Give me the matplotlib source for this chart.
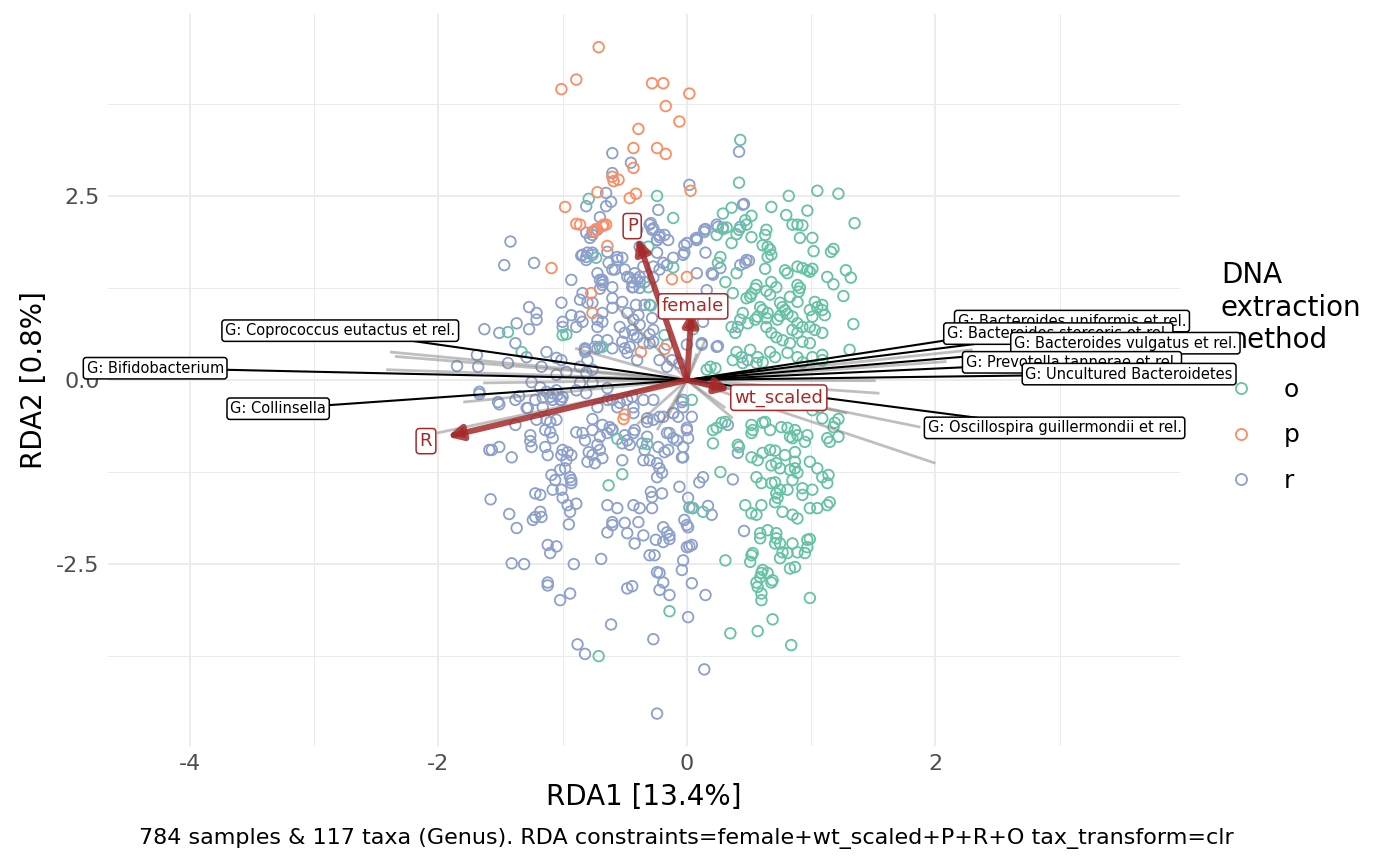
import matplotlib
matplotlib.use("Agg")
import matplotlib.pyplot as plt
import numpy as np
from matplotlib.lines import Line2D

plt.rcParams['font.family'] = ['DejaVu Sans']
plt.rcParams['axes.unicode_minus'] = False

# sample scores, method "o"
o_pts = np.array([
    (0.42, 2.68), (0.82, 2.50), (1.05, 2.57), (1.22, 2.53), (1.35, 2.13), (0.97, 2.30), (0.80, 2.24), (0.68, 2.35),
    (0.85, 2.11), (0.89, 2.11), (0.93, 2.10), (0.91, 1.93), (1.01, 1.93), (1.02, 1.75), (1.16, 1.74), (1.18, 1.78),
    (1.28, 1.49), (1.32, 1.39), (1.13, 1.40), (1.18, 1.30), (1.26, 1.14), (1.34, 0.76), (0.36, 2.34), (0.29, 2.26),
    (0.52, 2.23), (0.47, 2.17), (0.48, 2.11), (0.42, 2.04), (0.40, 1.98), (0.36, 1.86), (0.32, 2.07), (0.29, 2.05),
    (0.24, 1.97), (0.64, 2.04), (0.63, 1.97), (0.52, 1.94), (0.61, 1.83), (0.65, 1.81), (0.67, 1.77), (0.68, 1.70),
    (0.65, 1.67), (0.27, 1.67), (0.25, 1.59), (0.40, 1.45), (0.31, 1.33), (0.63, 1.51), (0.79, 1.49), (0.81, 1.45),
    (0.89, 1.54), (0.93, 1.52), (0.97, 1.49), (0.99, 1.47), (1.01, 1.51), (0.68, 1.33), (0.72, 1.26), (0.56, 1.29),
    (0.55, 1.24), (0.52, 1.17), (0.89, 1.29), (0.91, 1.25), (0.90, 1.20), (0.64, 1.21), (0.67, 1.16), (0.48, 1.11),
    (0.51, 1.13), (0.37, 1.18), (0.83, 1.13), (0.89, 1.06), (1.03, 1.06), (1.05, 0.99), (1.09, 1.02), (1.09, 0.95),
    (1.11, 0.88), (0.99, 0.95), (1.01, 0.86), (0.75, 1.05), (0.77, 0.99), (0.79, 0.95), (0.81, 0.90), (0.75, 0.87),
    (0.73, 0.82), (0.59, 0.99), (0.61, 0.95), (0.65, 0.91), (0.57, 0.86), (0.64, 0.84), (0.45, 0.91), (0.43, 0.82),
    (0.49, 0.77), (0.55, 0.82), (0.85, 0.86), (0.89, 0.77), (0.93, 0.72), (0.85, 0.68), (0.89, 0.64), (0.99, 0.72),
    (1.03, 0.68), (1.09, 0.64), (0.36, 0.72), (0.39, 0.64), (0.64, 0.72), (0.68, 0.64), (0.72, 0.58), (0.77, 0.54),
    (0.83, 0.50), (0.93, 0.52), (0.99, 0.50), (0.40, 0.38), (0.37, 0.27), (0.44, 0.31), (0.51, 0.41), (0.57, 0.31),
    (0.61, 0.24), (0.67, 0.38), (0.71, 0.31), (0.81, 0.37), (0.89, 0.31), (0.93, 0.24), (1.01, 0.31), (1.09, 0.34),
    (1.09, 0.27), (0.19, 0.18), (0.16, 0.14), (0.23, 0.16), (0.45, 0.23), (0.56, 0.23), (1.31, 0.41), (0.43, 3.26),
    (-0.24, 2.50), (-0.11, 2.20), (-0.79, 2.46), (-0.73, 1.66), (-0.31, 1.81), (-0.11, 1.53), (-0.31, 1.26),
    (-0.29, 1.01), (-1.44, 0.65), (-0.97, 0.62), (-0.68, 0.45), (-1.33, 0.38), (-0.18, 0.61), (0.05, 0.69),
    (-1.00, 0.61), (0.04, -0.27), (0.21, -0.68), (0.24, -0.65), (0.28, -0.58), (0.31, -0.57), (0.21, -0.86),
    (0.41, -0.88), (0.42, -0.91), (0.52, -0.61), (0.53, -0.68), (0.52, -0.72), (0.63, -0.57), (0.61, -0.58),
    (0.67, -0.68), (0.76, -0.64), (0.81, -0.65), (0.87, -0.68), (0.89, -0.75), (0.83, -0.77), (0.85, -0.79),
    (0.97, -0.75), (0.95, -0.84), (1.09, -0.52), (1.19, -0.58), (1.22, -0.53), (1.18, -0.64), (1.13, -0.79),
    (1.15, -0.84), (1.22, -0.77), (1.01, -0.41), (1.07, -0.37), (0.52, -1.05), (0.57, -1.09), (0.61, -0.99),
    (0.67, -0.95), (0.71, -0.96), (0.68, -1.16), (0.72, -1.13), (0.79, -1.02), (0.87, -0.98), (0.87, -1.11),
    (0.83, -1.22), (0.75, -1.20), (0.87, -1.20), (0.89, -1.26), (0.85, -1.36), (0.99, -1.11), (1.05, -1.20),
    (1.09, -1.32), (1.14, -1.29), (1.13, -1.40), (0.56, -1.32), (0.60, -1.40), (0.68, -1.40), (0.71, -1.39),
    (0.72, -1.54), (0.73, -1.60), (0.71, -1.66), (0.75, -1.49), (0.81, -1.49), (0.93, -1.47), (1.01, -1.49),
    (0.93, -1.56), (0.99, -1.74), (1.05, -1.74), (1.13, -1.70), (1.15, -1.66), (0.77, -1.79), (0.85, -1.83),
    (0.89, -1.88), (0.47, -1.70), (0.60, -1.70), (0.52, -1.81), (0.56, -1.83), (0.59, -2.08), (0.65, -2.04),
    (0.72, -2.08), (0.72, -2.15), (0.71, -2.22), (0.59, -2.15), (0.75, -2.22), (0.77, -2.34), (0.81, -2.35),
    (0.75, -2.42), (0.85, -2.22), (0.89, -2.34), (0.87, -2.54), (0.83, -2.56), (0.97, -2.17), (0.99, -2.16),
    (0.97, -2.27), (0.95, -2.35), (0.52, -2.38), (0.53, -2.35), (0.51, -2.47), (0.61, -2.58), (0.60, -2.62),
    (0.59, -2.68), (0.65, -2.62), (0.68, -2.75), (0.69, -2.72), (0.56, -2.75), (0.57, -2.81), (0.60, -2.90),
    (0.60, -2.99), (0.31, -2.45), (0.27, -1.25), (0.99, -2.96), (0.69, -3.25), (0.57, -3.41), (0.35, -3.44),
    (0.84, -3.60), (0.04, -1.74), (0.13, -1.79), (-0.56, -0.80), (-0.32, -0.87), (-0.52, -1.28), (-0.63, -1.43),
    (-0.14, -3.14), (-0.71, -3.75),
])

# sample scores, method "p"
p_pts = np.array([
    (-0.71, 4.52), (-0.89, 4.08), (-1.01, 3.95), (-0.28, 4.03), (-0.19, 4.03), (0.02, 3.89), (-0.17, 3.72),
    (-0.06, 3.51), (-0.39, 3.41), (-0.43, 3.15), (-0.24, 3.15), (-0.17, 3.07), (-0.43, 2.88), (-0.60, 2.76),
    (-0.59, 2.70), (-0.55, 2.72), (-0.72, 2.55), (-0.46, 2.47), (-0.41, 2.53), (0.03, 2.57), (-0.98, 2.35),
    (-0.89, 2.12), (-0.86, 2.11), (-0.73, 2.05), (-0.67, 2.11), (-0.75, 2.02), (-0.68, 2.09), (-0.65, 2.11),
    (-0.64, 1.82), (-1.09, 1.52), (-0.77, 1.18), (-0.76, 0.91), (-0.37, 0.38), (-0.12, 1.37), (0.00, 1.40),
    (-0.18, 0.42), (-0.51, -0.53), (-0.50, -0.47),
])

# sample scores, method "r"
r_pts = np.array([
    (-1.67, -0.19), (-1.51, -0.33), (-1.35, -0.22), (-1.28, -0.38), (-1.38, -0.61), (-1.21, -0.54), (-1.13, -0.54),
    (-1.10, -0.57), (-1.26, -0.83), (-1.57, -0.95), (-1.41, -1.05), (-1.10, -0.71), (-1.08, -0.79), (-1.14, -0.91),
    (-1.12, -1.02), (-1.00, -0.95), (-0.96, -0.98), (-0.93, -1.02), (-1.01, -1.02), (-0.97, -1.09), (-0.89, -0.71),
    (-0.82, -0.82), (-0.76, -0.53), (-0.68, -0.61), (-0.62, -0.64), (-0.60, -0.67), (-0.79, -0.98), (-0.76, -1.02),
    (-0.72, -0.88), (-0.70, -0.95), (-0.68, -1.06), (-0.74, -1.13), (-0.80, -1.11), (-0.52, -1.09), (-0.50, -0.75),
    (-0.48, -0.82), (-0.46, -0.88), (-0.52, -0.86), (-0.42, -0.68), (-0.36, -0.86), (-0.34, -0.95), (-0.35, -1.09),
    (-0.30, -1.09), (-0.32, -0.52), (-0.27, -0.54), (-0.22, -0.50), (-0.23, -0.91), (-0.18, -0.98), (-0.15, -0.95),
    (-0.24, -1.13), (-0.22, -1.20), (-0.20, -1.26), (-0.24, -1.32), (-0.14, -0.72), (-0.11, -0.79), (-0.11, -0.45),
    (-0.07, -0.50), (-0.04, -0.30), (-0.03, -0.27), (0.00, -0.65), (0.01, -0.79), (-0.04, -1.05), (-1.09, -1.29),
    (-1.06, -1.36), (-1.02, -1.22), (-0.98, -1.20), (-0.93, -1.36), (-0.94, -1.32), (-1.08, -1.49), (-1.01, -1.49),
    (-1.00, -1.60), (-0.93, -1.40), (-1.22, -1.54), (-1.18, -1.56), (-0.96, -1.70), (-0.89, -1.68), (-0.94, -1.79),
    (-1.22, -1.86), (-1.18, -1.79), (-1.17, -1.86), (-1.24, -1.90), (-0.95, -1.96), (-1.58, -1.62), (-1.43, -1.82),
    (-1.37, -2.01), (-1.12, -2.24), (-1.05, -2.26), (-1.10, -2.35), (-1.41, -2.49), (-1.31, -2.50), (-1.12, -2.75),
    (-1.12, -2.79), (-0.94, -2.90), (-1.02, -2.99), (-0.91, -2.50), (-0.69, -2.43), (-0.64, -1.70), (-0.56, -1.74),
    (-0.60, -1.93), (-0.60, -1.97), (-0.64, -2.07), (-0.50, -1.94), (-0.48, -2.08), (-0.43, -1.70), (-0.38, -1.74),
    (-0.42, -2.22), (-0.39, -1.93), (-0.29, -1.52), (-0.28, -1.59), (-0.20, -1.54), (-0.28, -1.74), (-0.35, -2.11),
    (-0.25, -2.17), (-0.19, -2.00), (-0.16, -2.07), (-0.19, -2.20), (-0.14, -2.11), (-0.14, -2.16), (-0.30, -2.38),
    (-0.26, -2.38), (-0.24, -2.61), (-0.22, -2.62), (-0.48, -2.83), (-0.44, -2.80), (-0.19, -2.75), (-0.22, -2.85),
    (-0.14, -2.92), (-0.61, -3.32), (-0.27, -3.52), (-0.88, -3.59), (-0.82, -3.72), (-0.24, -4.53), (-0.03, -2.45),
    (-0.04, -2.58), (0.01, -3.22), (0.04, -2.76), (0.00, -2.27), (0.04, -2.24), (0.00, -1.97), (0.01, -2.00),
    (-0.02, -1.90), (0.05, -1.74), (0.01, -1.60), (-0.06, -1.45), (-0.64, -0.11), (-0.54, -0.31), (-0.60, -0.27),
    (-0.48, -0.27), (-0.44, -0.23), (-0.43, -0.45), (-0.32, -0.57), (-1.22, -0.27), (-1.16, -0.24), (-1.10, -0.23),
    (-1.04, -0.20), (-1.01, -0.27), (-0.89, -0.14), (-0.81, -0.18), (-0.72, -0.37), (-0.64, -0.27), (-0.76, -0.04),
    (-0.86, -0.04), (-1.08, -0.18), (0.04, -0.50), (-0.03, -0.91), (-0.03, -1.05), (0.33, -0.61), (0.41, -0.99),
    (0.13, -1.32), (0.10, -1.39), (0.37, -1.35), (0.02, -1.73), (0.17, -1.71), (0.20, -1.83), (0.46, -2.05),
    (0.02, -2.26), (0.15, -2.92), (0.14, -3.93), (-0.60, 3.08), (-0.45, 2.95), (-0.60, 2.81), (0.02, 2.65),
    (-0.65, 2.54), (-0.61, 2.42), (-0.65, 2.36), (-0.81, 2.36), (-0.23, 2.31), (-1.42, 1.88), (-1.47, 1.56),
    (-1.23, 1.59), (-0.30, 2.11), (-0.28, 2.04), (-0.22, 1.94), (-0.18, 1.97), (-0.15, 1.90), (-0.24, 1.90),
    (-0.78, 1.93), (-0.76, 1.97), (-0.72, 2.04), (-0.02, 1.83), (-0.02, 1.73), (0.07, 1.92), (-0.85, 1.69),
    (-0.81, 1.67), (-0.76, 1.70), (-0.64, 1.74), (-0.56, 1.67), (-0.52, 1.66), (-0.63, 1.59), (-0.58, 1.50),
    (-0.50, 1.50), (-0.42, 1.45), (-0.35, 1.54), (-0.93, 1.36), (-0.68, 1.36), (-0.68, 1.29), (-0.70, 1.24),
    (-0.48, 1.40), (-0.44, 1.33), (-0.40, 1.36), (-0.38, 1.40), (-0.34, 1.33), (-0.27, 1.39), (-0.22, 1.50),
    (-0.16, 1.56), (-0.11, 1.66), (-0.44, 1.26), (-0.38, 1.25), (-0.84, 1.18), (-0.86, 1.09), (-0.80, 1.05),
    (-0.76, 1.05), (-0.60, 1.11), (-0.52, 1.06), (-0.60, 0.98), (-0.48, 0.91), (-0.41, 1.02), (-0.34, 1.02),
    (-0.39, 0.88), (-0.68, 0.91), (-0.72, 0.82), (-0.72, 0.72), (-0.68, 0.79), (-1.01, 1.05), (-0.93, 0.88),
    (-1.00, 0.79), (-1.00, 0.72), (-0.86, 0.86), (-0.84, 0.79), (-0.89, 0.72), (-1.27, 0.99), (-1.21, 0.91),
    (-1.21, 0.82), (-1.27, 0.69), (-1.37, 0.77), (-1.63, 0.69), (-1.51, 0.64), (-1.38, 0.50), (-1.29, 0.31),
    (-1.13, 0.38), (-1.01, 0.27), (-0.54, 0.72), (-0.50, 0.64), (-0.44, 0.68), (-0.40, 0.58), (-0.35, 0.50),
    (-0.30, 0.62), (-0.27, 0.52), (-0.52, 0.52), (-0.50, 0.43), (-0.48, 0.37), (-0.40, 0.27), (-0.82, 0.43),
    (-0.74, 0.45), (-0.80, 0.27), (-1.85, 0.19), (-1.68, 0.18), (-1.44, 0.23), (-1.17, 0.18), (-0.22, 0.27),
    (-0.12, 0.27), (-0.06, 0.23), (-0.16, 0.18), (-1.69, 0.34), (-1.05, 0.30), (-1.05, 0.07), (-0.97, 0.11),
    (-0.86, 0.18), (-0.81, 0.10), (-0.76, 0.14), (-1.25, -0.03), (-1.18, -0.10), (-1.13, -0.16), (-1.05, -0.14),
    (-1.00, -0.23), (-1.08, -0.27), (-1.02, -0.27), (-1.67, -0.16), (-1.52, -0.30), (-1.38, -0.27), (-1.29, -0.38),
    (-1.16, -0.37), (-1.05, -0.54), (-1.14, -0.68), (-1.26, -0.75), (-1.25, -0.91), (-1.51, -0.91), (-1.59, -0.95),
    (-0.82, 0.41), (-0.72, 0.43), (-0.64, 0.54), (-0.72, 0.54), (-0.84, -0.72), (-0.76, -0.68), (-0.70, -0.77),
    (-0.64, -0.72), (-0.60, -0.68), (-0.43, -0.72), (-0.32, -0.77), (-0.16, -0.72), (-0.08, -0.82), (0.00, -0.68),
    (-0.56, -0.37), (-0.43, -0.37), (-0.35, -0.27), (-0.27, -0.27), (-0.19, -0.50), (-0.11, -0.45), (-0.03, -0.37),
    (-0.82, 0.38), (-0.70, 0.45), (-0.60, 0.43), (-0.46, 0.45), (-0.30, 0.50), (-0.16, 0.48), (0.00, 0.48),
    (0.12, 0.48), (0.24, 0.45), (-0.43, 0.82), (-0.38, 0.75), (-0.27, 0.68), (-0.43, 0.61), (-0.28, 0.84),
    (-0.30, 1.02), (-0.16, 1.06), (-0.03, 1.09), (0.00, 1.86), (-0.03, 1.70), (0.08, 1.90), (0.14, 2.01),
    (0.24, 2.11), (0.43, 2.08), (0.45, 2.38), (0.48, 1.63), (0.43, 1.56), (0.21, 1.43), (0.41, 0.72),
    (-0.22, 1.97), (-0.24, 1.90), (-0.27, 2.06), (-0.40, 2.04), (-0.38, 1.81), (-0.24, 1.73), (-0.19, 1.59),
    (-0.27, 1.54), (-0.70, 2.21), (-0.81, 2.00), (-0.76, 2.01), (-0.84, 1.70), (-0.80, 1.73), (-0.76, 1.73),
    (-0.81, 1.63), (-0.72, 1.45), (-0.70, 1.36), (-0.68, 1.33), (-0.60, 1.50), (-0.60, 1.26), (-0.46, 1.39),
    (-0.43, 1.26), (-0.38, 1.33), (-0.56, 1.63), (0.42, 3.10), (-0.29, 2.13), (0.15, 2.05), (0.25, 2.08),
    (0.29, 2.07), (0.46, 2.39), (0.14, 2.04), (0.08, 1.93), (0.15, 1.73), (0.27, 1.52), (0.20, 1.45),
    (0.08, 1.45), (0.47, 1.59), (0.50, 1.62), (0.16, 1.22), (0.13, 0.79), (0.12, 0.50), (0.25, 0.46),
    (0.49, 0.27),
])

# labelled taxa loadings (label positions)
taxa_names = ["G: Bacteroides uniformis et rel.", "G: Bacteroides stercoris et rel.",
              "G: Bacteroides vulgatus et rel.", "G: Prevotella tannerae et rel.",
              "G: Uncultured Bacteroidetes", "G: Oscillospira guillermondii et rel.",
              "G: Coprococcus eutactus et rel.", "G: Bifidobacterium", "G: Collinsella"]
taxa_x = [3.10, 2.99, 3.53, 3.10, 3.56, 2.96, -2.79, -4.28, -3.29]
taxa_y = [0.80, 0.63, 0.50, 0.24, 0.08, -0.65, 0.67, 0.16, -0.39]

# unlabelled taxa loadings
other_x = [-2.39, -2.35, -2.42, -1.64, -1.80, -2.01, -0.90, -0.56, 0.08, -0.24, -0.16, 0.37, 0.31,
           1.29, 2.00, 1.88, 1.55, 1.52, 2.30, 2.09, 0.15, -0.40]
other_y = [0.38, 0.32, 0.14, -0.04, -0.30, -0.72, 0.43, 0.99, 0.36, -0.68, -0.52, -0.52, -0.38,
           -0.45, -1.13, -0.64, -0.18, -0.01, 0.41, 0.25, 0.55, -0.60]

# constraint arrows
con_names = ["P", "female", "wt_scaled", "R"]
con_x = [-0.40, 0.04, 0.35, -1.93]
con_y = [1.93, 0.95, -0.13, -0.77]
con_lab_x = [-0.44, 0.05, 0.74, -2.10]
con_lab_y = [2.09, 1.00, -0.24, -0.83]

colors = {"o": "#66C2A5", "p": "#FC8D62", "r": "#8DA0CB"}
red = "#A52A2A"

fig = plt.figure(figsize=(14, 8.65), dpi=100)
ax = fig.add_axes([0.0771, 0.1376, 0.7658, 0.8462])

for key, pts in [("r", r_pts), ("o", o_pts), ("p", p_pts)]:
    ax.scatter(pts[:, 0], pts[:, 1], s=58, facecolors="none", edgecolors=colors[key],
               linewidths=1.3, zorder=2)

for x, y in zip(other_x, other_y):
    ax.plot([0, x], [0, y], color="grey", alpha=0.5, lw=2, zorder=3, solid_capstyle="butt")
for x, y in zip(taxa_x, taxa_y):
    ax.plot([0, x], [0, y], color="black", lw=1.5, zorder=4)
for name, x, y in zip(taxa_names, taxa_x, taxa_y):
    ax.text(x, y, name, fontsize=10.5, ha="center", va="center", color="black", zorder=6,
            bbox=dict(boxstyle="round,pad=0.22,rounding_size=0.2", fc="white", ec="black", lw=1.1))

for x, y in zip(con_x, con_y):
    ax.annotate("", xy=(x, y), xytext=(0, 0), zorder=5,
                arrowprops=dict(arrowstyle="-|>,head_length=0.6,head_width=0.3", color=red,
                                lw=4.3, alpha=0.85, shrinkA=0, shrinkB=0, mutation_scale=14))
for name, x, y in zip(con_names, con_lab_x, con_lab_y):
    ax.text(x, y, name, fontsize=13, ha="center", va="center", color=red, zorder=7,
            bbox=dict(boxstyle="round,pad=0.2,rounding_size=0.2", fc="white", ec=red, lw=1.1))

ax.set_xlim(-4.66, 3.97)
ax.set_ylim(-4.97, 4.97)
ax.set_xticks([-4, -2, 0, 2])
ax.set_xticks([-3, -1, 1, 3], minor=True)
ax.set_yticks([-2.5, 0, 2.5])
ax.set_yticklabels(["-2.5", "0.0", "2.5"])
ax.set_yticks([-3.75, -1.25, 1.25, 3.75], minor=True)
ax.grid(which="major", color="#EBEBEB", lw=1.3)
ax.grid(which="minor", color="#EBEBEB", lw=0.7)
ax.set_axisbelow(True)
for s in ax.spines.values():
    s.set_visible(False)
ax.tick_params(which="both", length=0, labelsize=16, labelcolor="#4D4D4D", pad=6)
ax.set_xlabel("RDA1 [13.4%]", fontsize=20, labelpad=6)
ax.set_ylabel("RDA2 [0.8%]", fontsize=20, labelpad=6)

fig.text(0.49, 0.031, "784 samples & 117 taxa (Genus). RDA constraints=female+wt_scaled+P+R+O tax_transform=clr",
         ha="center", va="center", fontsize=16)

# legend lives in the axes so the taxa labels can sit on top of it
handles = [Line2D([], [], ls="none", marker="o", markersize=8, markerfacecolor="none",
                  markeredgecolor=colors[k], markeredgewidth=1.3) for k in ["o", "p", "r"]]
leg = ax.legend(handles, ["o", "p", "r"], title="DNA\nextraction\nmethod", loc="upper left",
                bbox_to_anchor=(0.872, 0.698), bbox_transform=fig.transFigure, frameon=False,
                fontsize=18, title_fontsize=20, alignment="left", handlelength=1.6,
                handletextpad=0.9, labelspacing=0.87, borderpad=0, borderaxespad=0)
leg._legend_box.sep = 17
leg.set_zorder(1)

fig.savefig("out.png", dpi=100)
